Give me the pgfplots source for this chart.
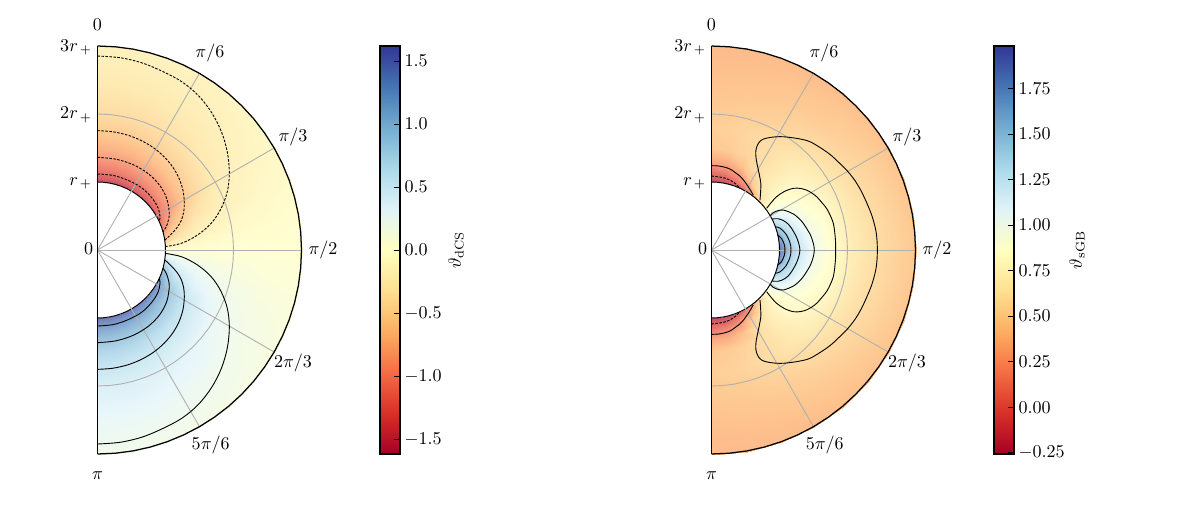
\documentclass[border=0pt]{standalone}
\usepackage{pgfplots}
\usepackage{pgfplotstable}
\pgfplotsset{compat=1.18}
\pgfplotsset{
  colormap={rdylbu}{rgb255=(165,0,38) rgb255=(215,48,39) rgb255=(244,109,67) rgb255=(253,174,97) rgb255=(254,224,144) rgb255=(255,255,191) rgb255=(224,243,248) rgb255=(171,217,233) rgb255=(116,173,209) rgb255=(69,117,180) rgb255=(49,54,149)},
  colormap={rdylbuw}{rgb255=(192,77,103) rgb255=(227,110,104) rgb255=(247,153,123) rgb255=(254,198,144) rgb255=(254,233,177) rgb255=(255,255,210) rgb255=(233,247,250) rgb255=(196,228,240) rgb255=(158,198,223) rgb255=(125,158,203) rgb255=(111,114,181)},
}
\pgfplotstableread{
phi one two three
90 1 2 3
85 1 2 3
80 1 2 3
75 1 2 3
70 1 2 3
65 1 2 3
60 1 2 3
55 1 2 3
50 1 2 3
45 1 2 3
40 1 2 3
35 1 2 3
30 1 2 3
25 1 2 3
20 1 2 3
15 1 2 3
10 1 2 3
5 1 2 3
0 1 2 3
-5 1 2 3
-10 1 2 3
-15 1 2 3
-20 1 2 3
-25 1 2 3
-30 1 2 3
-35 1 2 3
-40 1 2 3
-45 1 2 3
-50 1 2 3
-55 1 2 3
-60 1 2 3
-65 1 2 3
-70 1 2 3
-75 1 2 3
-80 1 2 3
-85 1 2 3
-90 1 2 3
}\arcs
\pgfplotstableread[row sep=\\]{
phi r v\\
90 1 -1.60\\ 80 1 -1.592\\ 70 1 -1.568\\ 60 1 -1.536\\ 50 1 -1.488\\ 40 1 -1.44\\ 30 1 -1.376\\ 20 1 -1.136\\ 10 1 -0.688\\ 0 1 0\\ -10 1 0.688\\ -20 1 1.136\\ -30 1 1.376\\ -40 1 1.44\\ -50 1 1.488\\ -60 1 1.536\\ -70 1 1.568\\ -80 1 1.592\\ -90 1 1.60\\
90 1.05 -1.45\\ 80 1.05 -1.441\\ 70 1.05 -1.418\\ 60 1.05 -1.385\\ 50 1.05 -1.341\\ 40 1.05 -1.295\\ 30 1.05 -1.237\\ 20 1.05 -0.979\\ 10 1.05 -0.587\\ 0 1.05 0\\ -10 1.05 0.587\\ -20 1.05 0.979\\ -30 1.05 1.237\\ -40 1.05 1.295\\ -50 1.05 1.341\\ -60 1.05 1.385\\ -70 1.05 1.418\\ -80 1.05 1.441\\ -90 1.05 1.45\\
90 1.1 -1.33\\ 80 1.1 -1.321\\ 70 1.1 -1.297\\ 60 1.1 -1.264\\ 50 1.1 -1.224\\ 40 1.1 -1.177\\ 30 1.1 -1.124\\ 20 1.1 -0.851\\ 10 1.1 -0.505\\ 0 1.1 0\\ -10 1.1 0.505\\ -20 1.1 0.851\\ -30 1.1 1.124\\ -40 1.1 1.177\\ -50 1.1 1.224\\ -60 1.1 1.264\\ -70 1.1 1.297\\ -80 1.1 1.321\\ -90 1.1 1.33\\
90 1.2 -1.15\\ 80 1.2 -1.139\\ 70 1.2 -1.116\\ 60 1.2 -1.081\\ 50 1.2 -1.047\\ 40 1.2 -1.001\\ 30 1.2 -0.955\\ 20 1.2 -0.656\\ 10 1.2 -0.380\\ 0 1.2 0\\ -10 1.2 0.380\\ -20 1.2 0.656\\ -30 1.2 0.955\\ -40 1.2 1.001\\ -50 1.2 1.047\\ -60 1.2 1.081\\ -70 1.2 1.116\\ -80 1.2 1.139\\ -90 1.2 1.15\\
90 1.35 -0.96\\ 80 1.35 -0.950\\ 70 1.35 -0.926\\ 60 1.35 -0.893\\ 50 1.35 -0.854\\ 40 1.35 -0.806\\ 30 1.35 -0.754\\ 20 1.35 -0.514\\ 10 1.35 -0.293\\ 0 1.35 0\\ -10 1.35 0.293\\ -20 1.35 0.514\\ -30 1.35 0.754\\ -40 1.35 0.806\\ -50 1.35 0.854\\ -60 1.35 0.893\\ -70 1.35 0.926\\ -80 1.35 0.950\\ -90 1.35 0.96\\
90 1.5 -0.79\\ 80 1.5 -0.782\\ 70 1.5 -0.758\\ 60 1.5 -0.727\\ 50 1.5 -0.687\\ 40 1.5 -0.640\\ 30 1.5 -0.585\\ 20 1.5 -0.395\\ 10 1.5 -0.221\\ 0 1.5 0\\ -10 1.5 0.221\\ -20 1.5 0.395\\ -30 1.5 0.585\\ -40 1.5 0.640\\ -50 1.5 0.687\\ -60 1.5 0.727\\ -70 1.5 0.758\\ -80 1.5 0.782\\ -90 1.5 0.79\\
90 1.75 -0.60\\ 80 1.75 -0.593\\ 70 1.75 -0.573\\ 60 1.75 -0.543\\ 50 1.75 -0.504\\ 40 1.75 -0.456\\ 30 1.75 -0.402\\ 20 1.75 -0.288\\ 10 1.75 -0.156\\ 0 1.75 0\\ -10 1.75 0.156\\ -20 1.75 0.288\\ -30 1.75 0.402\\ -40 1.75 0.456\\ -50 1.75 0.504\\ -60 1.75 0.543\\ -70 1.75 0.573\\ -80 1.75 0.593\\ -90 1.75 0.60\\
90 2 -0.45\\ 80 2 -0.443\\ 70 2 -0.428\\ 60 2 -0.401\\ 50 2 -0.365\\ 40 2 -0.320\\ 30 2 -0.270\\ 20 2 -0.207\\ 10 2 -0.108\\ 0 2 0\\ -10 2 0.108\\ -20 2 0.207\\ -30 2 0.270\\ -40 2 0.320\\ -50 2 0.365\\ -60 2 0.401\\ -70 2 0.428\\ -80 2 0.443\\ -90 2 0.45\\
90 2.5 -0.30\\ 80 2.5 -0.296\\ 70 2.5 -0.284\\ 60 2.5 -0.264\\ 50 2.5 -0.237\\ 40 2.5 -0.204\\ 30 2.5 -0.165\\ 20 2.5 -0.120\\ 10 2.5 -0.063\\ 0 2.5 0\\ -10 2.5 0.063\\ -20 2.5 0.120\\ -30 2.5 0.165\\ -40 2.5 0.204\\ -50 2.5 0.237\\ -60 2.5 0.264\\ -70 2.5 0.284\\ -80 2.5 0.296\\ -90 2.5 0.30\\
90 3.01 -0.20\\ 80 3.01 -0.197\\ 70 3.01 -0.188\\ 60 3.01 -0.174\\ 50 3.01 -0.154\\ 40 3.01 -0.130\\ 30 3.01 -0.100\\ 20 3.01 -0.068\\ 10 3.01 -0.036\\ 0 3.01 0\\ -10 3.01 0.036\\ -20 3.01 0.068\\ -30 3.01 0.100\\ -40 3.01 0.130\\ -50 3.01 0.154\\ -60 3.01 0.174\\ -70 3.01 0.188\\ -80 3.01 0.197\\ -90 3.01 0.20\\
}\dcs
\pgfplotstableread[row sep=\\]{
phi r v\\
90 1 -0.25\\ 80 1 -0.23\\ 70 1 -0.15\\ 60 1 0.02\\ 50 1 0.38\\ 40 1 0.73\\ 30 1 1.10\\ 20 1 1.45\\ 10 1 1.78\\ 0 1 1.98\\ -10 1 1.78\\ -20 1 1.45\\ -30 1 1.10\\ -40 1 0.73\\ -50 1 0.38\\ -60 1 0.02\\ -70 1 -0.15\\ -80 1 -0.23\\ -90 1 -0.25\\
90 1.08 -0.105\\ 80 1.08 -0.09\\ 70 1.08 0.05\\ 60 1.08 0.22\\ 50 1.08 0.58\\ 40 1.08 0.76\\ 30 1.08 1.06\\ 20 1.08 1.33\\ 10 1.08 1.52\\ 0 1.08 1.70\\ -10 1.08 1.52\\ -20 1.08 1.33\\ -30 1.08 1.06\\ -40 1.08 0.76\\ -50 1.08 0.58\\ -60 1.08 0.22\\ -70 1.08 0.05\\ -80 1.08 -0.09\\ -90 1.08 -0.105\\
90 1.17 0.05\\ 80 1.17 0.08\\ 70 1.17 0.20\\ 60 1.17 0.44\\ 50 1.17 0.64\\ 40 1.17 0.78\\ 30 1.17 0.98\\ 20 1.17 1.25\\ 10 1.17 1.38\\ 0 1.17 1.45\\ -10 1.17 1.38\\ -20 1.17 1.25\\ -30 1.17 0.98\\ -40 1.17 0.78\\ -50 1.17 0.64\\ -60 1.17 0.44\\ -70 1.17 0.20\\ -80 1.17 0.08\\ -90 1.17 0.05\\
90 1.3 0.26\\ 80 1.3 0.28\\ 70 1.3 0.39\\ 60 1.3 0.56\\ 50 1.3 0.67\\ 40 1.3 0.79\\ 30 1.3 0.90\\ 20 1.3 1.06\\ 10 1.3 1.19\\ 0 1.3 1.25\\ -10 1.3 1.19\\ -20 1.3 1.06\\ -30 1.3 0.90\\ -40 1.3 0.79\\ -50 1.3 0.67\\ -60 1.3 0.56\\ -70 1.3 0.39\\ -80 1.3 0.28\\ -90 1.3 0.26\\
90 1.5 0.44\\ 80 1.5 0.46\\ 70 1.5 0.51\\ 60 1.5 0.58\\ 50 1.5 0.65\\ 40 1.5 0.77\\ 30 1.5 0.84\\ 20 1.5 0.90\\ 10 1.5 0.97\\ 0 1.5 1.01\\ -10 1.5 0.97\\ -20 1.5 0.90\\ -30 1.5 0.84\\ -40 1.5 0.77\\ -50 1.5 0.65\\ -60 1.5 0.58\\ -70 1.5 0.51\\ -80 1.5 0.46\\ -90 1.5 0.44\\
90 1.8 0.47\\ 80 1.8 0.49\\ 70 1.8 0.53\\ 60 1.8 0.57\\ 50 1.8 0.62\\ 40 1.8 0.68\\ 30 1.8 0.74\\ 20 1.8 0.79\\ 10 1.8 0.81\\ 0 1.8 0.82\\ -10 1.8 0.81\\ -20 1.8 0.79\\ -30 1.8 0.74\\ -40 1.8 0.68\\ -50 1.8 0.62\\ -60 1.8 0.57\\ -70 1.8 0.53\\ -80 1.8 0.49\\ -90 1.8 0.47\\
90 2.1 0.44\\ 80 2.1 0.45\\ 70 2.1 0.47\\ 60 2.1 0.50\\ 50 2.1 0.55\\ 40 2.1 0.58\\ 30 2.1 0.61\\ 20 2.1 0.63\\ 10 2.1 0.65\\ 0 2.1 0.66\\ -10 2.1 0.65\\ -20 2.1 0.63\\ -30 2.1 0.61\\ -40 2.1 0.58\\ -50 2.1 0.55\\ -60 2.1 0.50\\ -70 2.1 0.47\\ -80 2.1 0.45\\ -90 2.1 0.44\\
90 2.45 0.40\\ 80 2.45 0.41\\ 70 2.45 0.42\\ 60 2.45 0.44\\ 50 2.45 0.46\\ 40 2.45 0.49\\ 30 2.45 0.52\\ 20 2.45 0.54\\ 10 2.45 0.55\\ 0 2.45 0.56\\ -10 2.45 0.55\\ -20 2.45 0.54\\ -30 2.45 0.52\\ -40 2.45 0.49\\ -50 2.45 0.46\\ -60 2.45 0.44\\ -70 2.45 0.42\\ -80 2.45 0.41\\ -90 2.45 0.40\\
90 3.01 0.36\\ 80 3.01 0.36\\ 70 3.01 0.37\\ 60 3.01 0.37\\ 50 3.01 0.38\\ 40 3.01 0.39\\ 30 3.01 0.40\\ 20 3.01 0.41\\ 10 3.01 0.42\\ 0 3.01 0.43\\ -10 3.01 0.42\\ -20 3.01 0.41\\ -30 3.01 0.40\\ -40 3.01 0.39\\ -50 3.01 0.38\\ -60 3.01 0.37\\ -70 3.01 0.37\\ -80 3.01 0.36\\ -90 3.01 0.36\\
}\sgb
\pgfplotsset{
  panel/.style={
    x=37.74pt,y=37.74pt,xmin=0,xmax=3,ymin=-3,ymax=3,
    hide axis,clip=false,anchor=south west,colormap name=rdylbuw,
    colorbar right,
    colorbar shift/.style={xshift=0pt},
    every colorbar/.append style={
      at={(parent axis.north east)},anchor=north west,xshift=43.57pt,
      colormap name=rdylbu,
      width=11.1pt,height=226.44pt,scale only axis,
      tick align=inside,major tick length=3.3pt,
      ytick pos=right,yticklabel pos=right,
      tick style={black,line width=0.45pt},
      axis line style={black,line width=0.7pt},
      yticklabel style={xshift=-1pt},
    },
  },
  field/.style={surf,shader=interp,data cs=polar,mesh/rows=#1,mesh/cols=19,point meta=explicit},
  gridl/.style={color={rgb,255:red,176;green,176;blue,176},line width=0.5pt,data cs=polar,forget plot},
  spine/.style={black,line width=0.7pt,data cs=polar,forget plot},
  ctr/.style={black,line width=0.5pt,smooth,tension=0.55,forget plot},
  ctrd/.style={ctr,dash pattern=on 1.4pt off 0.8pt},
}
\newcommand{\decor}{%
  \addplot[fill=white,draw=black,line width=0.55pt,data cs=polar,forget plot] table[x=phi,y=one]{\arcs};
  \addplot[gridl] table[x=phi,y=two]{\arcs};
  \addplot[gridl] coordinates {(60,0) (60,3)};
  \addplot[gridl] coordinates {(30,0) (30,3)};
  \addplot[gridl] coordinates {(0,0) (0,3)};
  \addplot[gridl] coordinates {(-30,0) (-30,3)};
  \addplot[gridl] coordinates {(-60,0) (-60,3)};
}
\newcommand{\frameit}{%
  \addplot[spine] table[x=phi,y=three]{\arcs};
  \addplot[spine] coordinates {(90,3) (-90,3)};
  \node at (axis cs:0,3.32) {$0$};
  \node at (axis cs:0,-3.32) {$\pi$};
  \node[anchor=east] at (axis cs:0.01,2.98) {$3r_{\,+}$};
  \node[anchor=east] at (axis cs:0.01,1.99) {$2r_{\,+}$};
  \node[anchor=east] at (axis cs:0.01,0.98) {$r_{\,+}$};
  \node[anchor=east] at (axis cs:0.03,0.02) {$0$};
  \node at (axis cs:1.654,2.897) {$\pi/6$};
  \node at (axis cs:2.875,1.662) {$\pi/3$};
  \node at (axis cs:3.316,0) {$\pi/2$};
  \node at (axis cs:2.875,-1.657) {$2\pi/3$};
  \node at (axis cs:1.665,-2.868) {$5\pi/6$};
}
\begin{document}
\begin{tikzpicture}
\path[use as bounding box] (0,0) rectangle (654.345pt,283.605pt);
\begin{axis}[panel,at={(54.11pt,31.635pt)},
  point meta min=-1.619,point meta max=1.619,
  colorbar style={
    ytick={-1.5,-1,-0.5,0,0.5,1,1.5},
    yticklabel style={/pgf/number format/.cd,fixed,fixed zerofill,precision=1},
    ylabel={$\vartheta_{\mathrm{dCS}}$},
    every axis y label/.style={at={(axis description cs:3.8,0.5)},rotate=90,anchor=center},
  }]
\addplot[field=10] table[x=phi,y=r,meta=v]{\dcs};
\decor
\addplot[ctrd] coordinates {(0,2.853) (0.337,2.827) (0.663,2.749) (0.97,2.62) (1.247,2.47) (1.485,2.27) (1.679,2.02) (1.822,1.74) (1.91,1.437) (1.939,1.127) (1.907,0.85) (1.812,0.6) (1.67,0.39) (1.47,0.22) (1.238,0.1) (0.993,0.049)};
\addplot[ctrd] coordinates {(0,1.755) (0.222,1.739) (0.437,1.691) (0.639,1.612) (0.821,1.505) (0.978,1.373) (1.106,1.221) (1.2,1.052) (1.258,0.872) (1.277,0.686) (1.266,0.55) (1.23,0.43) (1.17,0.33) (1.09,0.24) (0.993,0.147)};
\addplot[ctrd] coordinates {(0,1.363) (0.273,1.335) (0.528,1.253) (0.747,1.122) (0.915,0.951) (1.02,0.752) (1.056,0.539) (1.04,0.43) (1.01,0.34) (0.965,0.27)};
\addplot[ctrd] coordinates {(0,1.118) (0.238,1.095) (0.46,1.02) (0.65,0.915) (0.797,0.77) (0.89,0.62) (0.92,0.48) (0.906,0.423)};
\addplot[ctr] coordinates {(0,-2.853) (0.337,-2.827) (0.663,-2.749) (0.97,-2.62) (1.247,-2.47) (1.485,-2.27) (1.679,-2.02) (1.822,-1.74) (1.91,-1.437) (1.939,-1.127) (1.907,-0.85) (1.812,-0.6) (1.67,-0.39) (1.47,-0.22) (1.238,-0.1) (0.993,-0.049)};
\addplot[ctr] coordinates {(0,-1.755) (0.222,-1.739) (0.437,-1.691) (0.639,-1.612) (0.821,-1.505) (0.978,-1.373) (1.106,-1.221) (1.2,-1.052) (1.258,-0.872) (1.277,-0.686) (1.266,-0.55) (1.23,-0.43) (1.17,-0.33) (1.09,-0.24) (0.993,-0.147)};
\addplot[ctr] coordinates {(0,-1.363) (0.273,-1.335) (0.528,-1.253) (0.747,-1.122) (0.915,-0.951) (1.02,-0.752) (1.056,-0.539) (1.04,-0.43) (1.01,-0.34) (0.965,-0.27)};
\addplot[ctr] coordinates {(0,-1.118) (0.238,-1.095) (0.46,-1.02) (0.65,-0.915) (0.797,-0.77) (0.89,-0.62) (0.92,-0.48) (0.906,-0.423)};
\frameit
\end{axis}
\begin{axis}[panel,at={(394.88pt,31.635pt)},
  point meta min=-0.257,point meta max=1.983,
  colorbar style={
    ytick={-0.25,0,0.25,0.5,0.75,1,1.25,1.5,1.75},
    yticklabel style={/pgf/number format/.cd,fixed,fixed zerofill,precision=2},
    ylabel={$\vartheta_{\mathrm{sGB}}$},
    every axis y label/.style={at={(axis description cs:4.15,0.5)},rotate=90,anchor=center},
  }]
\addplot[field=9] table[x=phi,y=r,meta=v]{\sgb};
\decor
\addplot[ctrd] coordinates {(0,1.088) (0.19,1.06) (0.32,1.0) (0.423,0.906)};
\addplot[ctrd] coordinates {(0,-1.088) (0.19,-1.06) (0.32,-1.0) (0.423,-0.906)};
\addplot[ctr] coordinates {(0,1.24) (0.11,1.235) (0.222,1.21) (0.30,1.175) (0.36,1.13) (0.42,1.085) (0.47,1.03) (0.545,0.925) (0.614,0.809)};
\addplot[ctr] coordinates {(0,-1.24) (0.11,-1.235) (0.222,-1.21) (0.30,-1.175) (0.36,-1.13) (0.42,-1.085) (0.47,-1.03) (0.545,-0.925) (0.614,-0.809)};
\addplot[ctr] coordinates {(0.713,0.735) (0.722,0.85) (0.725,0.98) (0.705,1.10) (0.68,1.22) (0.66,1.32) (0.65,1.42) (0.66,1.50) (0.69,1.57) (0.74,1.62) (0.81,1.645) (0.90,1.66) (1.01,1.667) (1.12,1.66) (1.23,1.645) (1.34,1.625) (1.449,1.593) (1.60,1.505) (1.75,1.40) (1.88,1.28) (2.0,1.16) (2.11,1.02) (2.2,0.87) (2.28,0.70) (2.35,0.53) (2.39,0.40) (2.42,0.27) (2.435,0.13) (2.439,0) (2.435,-0.13) (2.42,-0.27) (2.39,-0.40) (2.35,-0.53) (2.28,-0.70) (2.2,-0.87) (2.11,-1.02) (2.0,-1.16) (1.88,-1.28) (1.75,-1.40) (1.60,-1.505) (1.449,-1.593) (1.34,-1.625) (1.23,-1.645) (1.12,-1.66) (1.01,-1.667) (0.90,-1.66) (0.81,-1.645) (0.74,-1.62) (0.69,-1.57) (0.66,-1.50) (0.65,-1.42) (0.66,-1.32) (0.68,-1.22) (0.705,-1.10) (0.725,-0.98) (0.722,-0.85) (0.713,-0.735)};
\addplot[ctr] coordinates {(0.811,0.613) (0.88,0.70) (0.958,0.784) (1.07,0.86) (1.203,0.907) (1.31,0.905) (1.40,0.88) (1.48,0.835) (1.546,0.784) (1.63,0.69) (1.70,0.60) (1.75,0.50) (1.792,0.392) (1.812,0.26) (1.824,0.13) (1.826,0) (1.824,-0.13) (1.812,-0.26) (1.792,-0.392) (1.75,-0.50) (1.70,-0.60) (1.63,-0.69) (1.546,-0.784) (1.48,-0.835) (1.40,-0.88) (1.31,-0.905) (1.203,-0.907) (1.07,-0.86) (0.958,-0.784) (0.88,-0.70) (0.811,-0.613)};
\addplot[ctr] coordinates {(0.861,0.50) (0.90,0.545) (0.95,0.57) (1.0,0.585) (1.056,0.588) (1.14,0.56) (1.22,0.52) (1.29,0.46) (1.35,0.392) (1.41,0.30) (1.46,0.21) (1.497,0.10) (1.512,0) (1.497,-0.10) (1.46,-0.21) (1.41,-0.30) (1.35,-0.392) (1.29,-0.46) (1.22,-0.52) (1.14,-0.56) (1.056,-0.588) (1.0,-0.585) (0.95,-0.57) (0.90,-0.545) (0.861,-0.50)};
\addplot[ctr] coordinates {(0.89,0.455) (0.93,0.46) (0.98,0.46) (1.03,0.445) (1.08,0.42) (1.13,0.38) (1.17,0.33) (1.21,0.265) (1.25,0.19) (1.285,0.09) (1.30,0) (1.285,-0.09) (1.25,-0.19) (1.21,-0.265) (1.17,-0.33) (1.13,-0.38) (1.08,-0.42) (1.03,-0.445) (0.98,-0.46) (0.93,-0.46) (0.89,-0.455)};
\addplot[ctr] coordinates {(0.94,0.34) (0.975,0.335) (1.01,0.32) (1.05,0.285) (1.09,0.24) (1.125,0.18) (1.15,0.12) (1.165,0.06) (1.169,0) (1.165,-0.06) (1.15,-0.12) (1.125,-0.18) (1.09,-0.24) (1.05,-0.285) (1.01,-0.32) (0.975,-0.335) (0.94,-0.34)};
\addplot[ctr] coordinates {(0.975,0.22) (1.03,0.17) (1.07,0.08) (1.08,0) (1.07,-0.08) (1.03,-0.17) (0.975,-0.22)};
\frameit
\end{axis}
\end{tikzpicture}
\end{document}
